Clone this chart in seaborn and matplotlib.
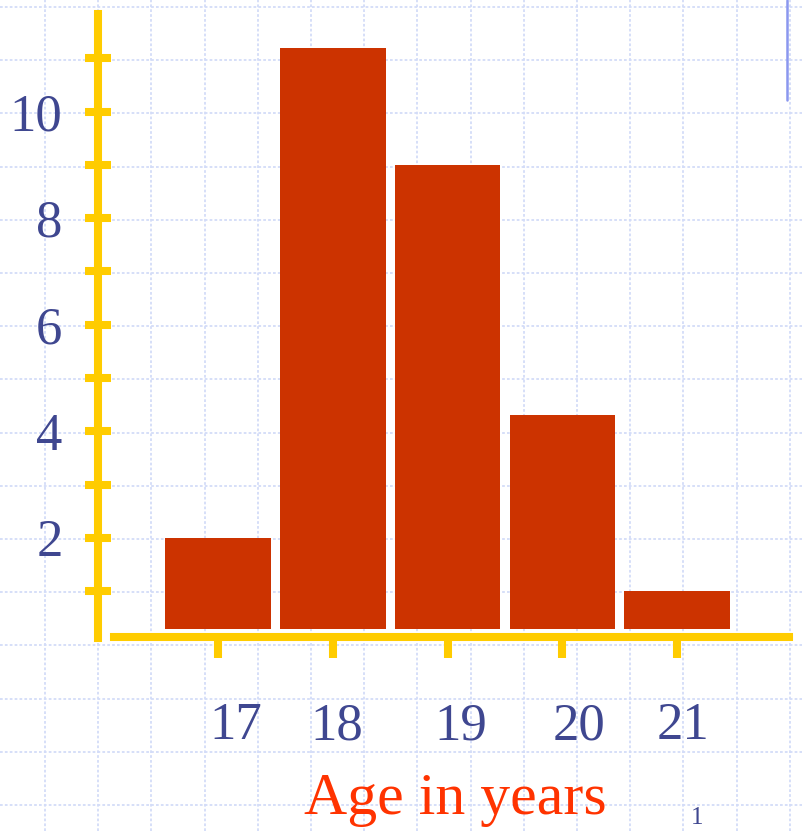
import matplotlib
matplotlib.use("Agg")
import numpy as np
import pandas as pd
import matplotlib.pyplot as plt
import matplotlib.transforms as mtransforms
import seaborn as sns

# data
ages = ["17", "18", "19", "20", "21"]
counts = [2.0, 11.2, 9.0, 4.3, 1.0]
bar_base = 0.3          # bars on the slide float a little above the axis
y_major = [2, 4, 6, 8, 10]
y_minor = [1, 3, 5, 7, 9, 11]
x_label = "Age in years"
page_number = "1"

BAR = "#cc3300"
AXIS = "#ffcc00"
TEXT = "#3f4790"
LABEL = "#ff3300"
GRID = "#d3dcf8"

W, H = 803, 831
sns.set_style("white")
plt.rcParams['font.family'] = ['Liberation Serif', 'DejaVu Serif']

fig = plt.figure(figsize=(W / 100, H / 100), dpi=100)

# slide background: light blue graph paper
bg = fig.add_axes([0, 0, 1, 1], zorder=0)
bg.set_xlim(0, W)
bg.set_ylim(H, 0)
bg.set_xticks(np.arange(45, W, 53.2))
bg.set_yticks(np.arange(7, H, 53.2))
bg.grid(True, color=GRID, linestyle=(0, (1.5, 1.2)), linewidth=1.3)
bg.tick_params(length=0, labelbottom=False, labelleft=False)
for s in bg.spines.values():
    s.set_visible(False)
bg.axvline(787, ymin=1 - 100 / H, ymax=1, color="#8a97ef", lw=1.8)

# main chart
ax = fig.add_axes([98 / W, 1 - 638 / H, (793 - 98) / W, (638 - 14) / H], zorder=1)
ax.patch.set_alpha(0)

df = pd.DataFrame({"age": ages, "count": [c - bar_base for c in counts]})
sns.barplot(data=df, x="age", y="count", color=BAR, saturation=1, width=0.92,
            bottom=bar_base, linewidth=0, ax=ax)

ax.set_xlim(-1.045, 5.009)
ax.set_ylim(0.122, 11.83)

ax.spines["top"].set_visible(False)
ax.spines["right"].set_visible(False)
ax.spines["left"].set_color(AXIS)
ax.spines["left"].set_linewidth(5.8)
ax.spines["bottom"].set_color(AXIS)
ax.spines["bottom"].set_linewidth(5.8)
ax.spines["bottom"].set_position(("data", 0.14))
ax.spines["bottom"].set_bounds(-0.905, 4.974)

ax.set_yticks(y_major)
ax.set_yticks(y_minor, minor=True)
ax.set_yticklabels([str(v) for v in y_major])
ax.tick_params(axis="y", which="both", left=True, direction="inout", length=19,
               width=5.8, color=AXIS, labelsize=38, labelcolor=TEXT, pad=16)
ax.tick_params(axis="x", bottom=True, direction="out", length=15, width=5.8,
               color=AXIS, labelsize=38, labelcolor=TEXT, pad=32)

# nudge x labels like on the slide
for lab, dx in zip(ax.get_xticklabels(), [18, 4, 13, 17, 6]):
    lab.set_transform(lab.get_transform() +
                      mtransforms.ScaledTranslation(dx / 100, 0, fig.dpi_scale_trans))

ax.set_ylabel("")
ax.set_xlabel(x_label, fontsize=43, color=LABEL)
ax.xaxis.set_label_coords(0.514, (638 - 800) / 624)
ax.xaxis.label.set_va("center")

fig.text(697 / W, 0.009, page_number, ha="center", va="baseline",
         fontsize=18, color=TEXT)

fig.savefig("out.png", dpi=100)
